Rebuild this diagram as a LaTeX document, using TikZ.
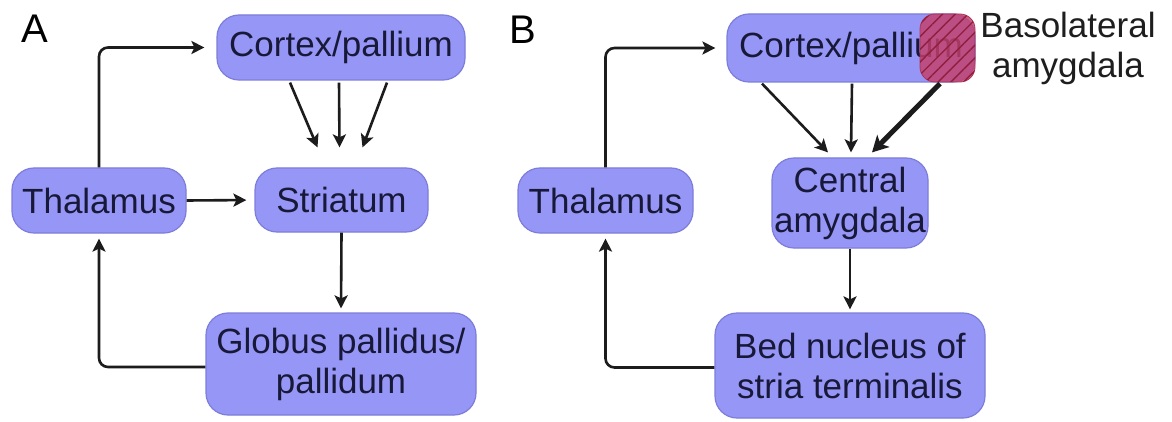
\documentclass[tikz,border=0pt]{standalone}
\usepackage{fontspec}
\setmainfont{Liberation Sans}
\usetikzlibrary{arrows.meta,patterns.meta}
\definecolor{boxfill}{RGB}{150,150,246}
\definecolor{boxline}{RGB}{125,125,218}
\definecolor{boxtext}{RGB}{24,24,56}
\definecolor{arrowcol}{RGB}{28,28,28}
\definecolor{blared}{RGB}{196,64,106}
\definecolor{blastripe}{RGB}{145,30,62}
\definecolor{bledge}{RGB}{175,50,88}
\begin{document}
\begin{tikzpicture}[x=1pt,y=-1pt,
  region/.style={draw=boxline, line width=1.2pt, fill=boxfill, rounded corners=22pt,
    text=boxtext, font=\fontsize{35}{40}\selectfont, align=center, inner sep=0pt},
  conn/.style={draw=arrowcol, line width=2.6pt, -{Stealth[length=13pt,width=13pt,inset=3pt]}},
  elbow/.style={conn, rounded corners=9pt},
  thickconn/.style={draw=arrowcol, line width=5pt, -{Stealth[length=16pt,width=17pt,inset=4pt]}},
  panel/.style={font=\fontsize{40}{40}\selectfont, inner sep=0pt, anchor=base west, text=black},
  sidelabel/.style={font=\fontsize{35}{40}\selectfont, align=center, inner sep=0pt, text={rgb,255:red,30;green,30;blue,30}}]
\useasboundingbox (0,0) rectangle (1172,422);
\fill[white] (0,0) rectangle (1172,422);

% ---------- Panel A ----------
\node[panel] (labA) at (21,43) {A};
\node[region, minimum width=248pt, minimum height=65pt] (cA) at (341,47.5) {Cortex/pallium};
\node[region, minimum width=174pt, minimum height=65pt] (thA) at (99,200.5) {Thalamus};
\node[region, minimum width=173pt, minimum height=64pt] (stA) at (341.5,200) {Striatum};
\node[region, minimum width=270pt, minimum height=102pt] (gpA) at (341,364) {Globus pallidus/\\pallidum};

\draw[elbow] (thA.north) |- ([xshift=-12pt]cA.west);
\draw[conn] ([xshift=-51pt,yshift=-2pt]cA.south) -- ([xshift=-24pt,yshift=20pt]stA.north);
\draw[conn] ([xshift=-2pt,yshift=-2pt]cA.south) -- ([xshift=-2pt,yshift=20pt]stA.north);
\draw[conn] ([xshift=46pt,yshift=-2pt]cA.south) -- ([xshift=21pt,yshift=20pt]stA.north);
\draw[conn, shorten >=8pt] (thA.east) -- (stA.west);
\draw[conn, shorten >=4pt] (stA.south) -- (gpA.north);
\draw[elbow, shorten >=5pt] ([yshift=-3pt]gpA.west) -| (thA.south);

% ---------- Panel B ----------
\node[panel] (labB) at (509,44) {B};
\node[region, minimum width=248pt, minimum height=68pt] (cB) at (851,48) {Cortex/pallium};
\path[fill=blared, fill opacity=0.82, draw=bledge, line width=0.8pt, rounded corners=15pt]
  (920,14) rectangle (975,82);
\path[pattern={Lines[angle=45,distance=9pt,line width=1.4pt]}, pattern color=blastripe, rounded corners=15pt]
  (920,14) rectangle (975,82);
\node[sidelabel] (bla) at (1068,48) {Basolateral\\amygdala};
\node[region, minimum width=175pt, minimum height=65pt] (thB) at (605.5,200.5) {Thalamus};
\node[region, minimum width=156pt, minimum height=90pt] (caB) at (850,203) {Central\\amygdala};
\node[region, minimum width=270pt, minimum height=105pt] (bnB) at (850,365.5) {Bed nucleus of\\stria terminalis};

\draw[elbow] (thB.north) |- ([xshift=-11pt]cB.west);
\draw[conn] ([xshift=-89pt,yshift=-1pt]cB.south) -- ([xshift=-22pt,yshift=5pt]caB.north);
\draw[conn] ([xshift=1pt,yshift=-1pt]cB.south) -- ([xshift=1pt,yshift=5pt]caB.north);
\draw[thickconn] ([xshift=89pt,yshift=-1pt]cB.south) -- ([xshift=22pt,yshift=5pt]caB.north);
\draw[conn, shorten >=3pt] (caB.south) -- (bnB.north);
\draw[elbow, shorten >=5pt] ([yshift=-2pt]bnB.west) -| (thB.south);
\end{tikzpicture}
\end{document}
